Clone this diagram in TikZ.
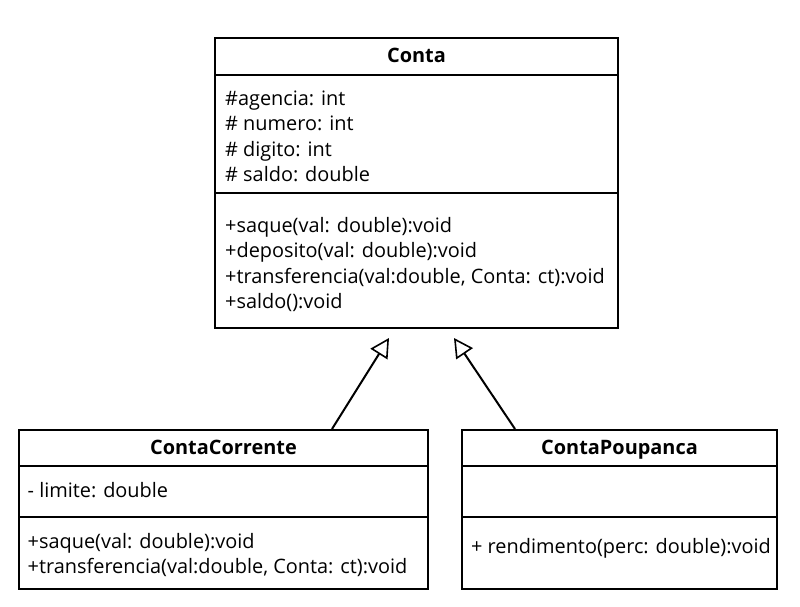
\documentclass[tikz,border=0pt]{standalone}
\usepackage{fontspec}
\setmainfont{Open Sans}
\usetikzlibrary{arrows.meta}
\begin{document}
\begin{tikzpicture}[x=1pt,y=-1pt,
  box/.style={draw=black, line width=2pt, fill=white, inner sep=0pt},
  sep/.style={draw=black, line width=2pt},
  txt/.style={anchor=base west, inner sep=0pt, font=\fontsize{19.9}{23}\selectfont},
  ttl/.style={anchor=base, inner sep=0pt, font=\fontsize{19.9}{23}\selectfont\bfseries},
  gen/.style={draw=black, line width=2pt, -{Triangle[open, length=19pt, width=20pt, line width=1.6pt]}}]
\useasboundingbox[fill=white] (0,0) rectangle (800,607);
% Conta
\node[box, minimum width=403pt, minimum height=289pt] (conta) at (416.5,183) {};
\draw[sep] (conta.west |- 0,75) -- (conta.east |- 0,75);
\draw[sep] (conta.west |- 0,193) -- (conta.east |- 0,193);
\node[ttl] (contaT) at (416.5,63) {Conta};
\node[txt] (ca1) at (225,106) {\#agencia: int};
\node[txt] (ca2) at (225,131) {\# numero: int};
\node[txt] (ca3) at (225,156) {\# digito: int};
\node[txt] (ca4) at (225,181) {\# saldo: double};
\node[txt] (cm1) at (225,232) {+saque(val: double):void};
\node[txt] (cm2) at (225,257.5) {+deposito(val: double):void};
\node[txt] (cm3) at (225,283) {+transferencia(val:double, Conta: ct):void};
\node[txt] (cm4) at (225,308) {+saldo():void};
% ContaCorrente
\node[box, minimum width=409pt, minimum height=159pt] (cc) at (223.5,509.5) {};
\draw[sep] (cc.west |- 0,466) -- (cc.east |- 0,466);
\draw[sep] (cc.west |- 0,517) -- (cc.east |- 0,517);
\node[ttl] (ccT) at (223.5,454) {ContaCorrente};
\node[txt] (cca1) at (27.5,497) {- limite: double};
\node[txt] (ccm1) at (27.5,548) {+saque(val: double):void};
\node[txt] (ccm2) at (27.5,573) {+transferencia(val:double, Conta: ct):void};
% ContaPoupanca
\node[box, minimum width=315pt, minimum height=159pt] (cp) at (619.5,509.5) {};
\draw[sep] (cp.west |- 0,466) -- (cp.east |- 0,466);
\draw[sep] (cp.west |- 0,517) -- (cp.east |- 0,517);
\node[ttl] (cpT) at (619.5,454) {ContaPoupanca};
\node[txt] (cpm1) at (471,553) {+ rendimento(perc: double):void};
% generalizations
\coordinate (t1) at (389,338);
\coordinate (t2) at (454,338);
\draw[gen] (cc.north -| 332,0) -- (t1);
\draw[gen] (cp.north -| 515,0) -- (t2);
\end{tikzpicture}
\end{document}
